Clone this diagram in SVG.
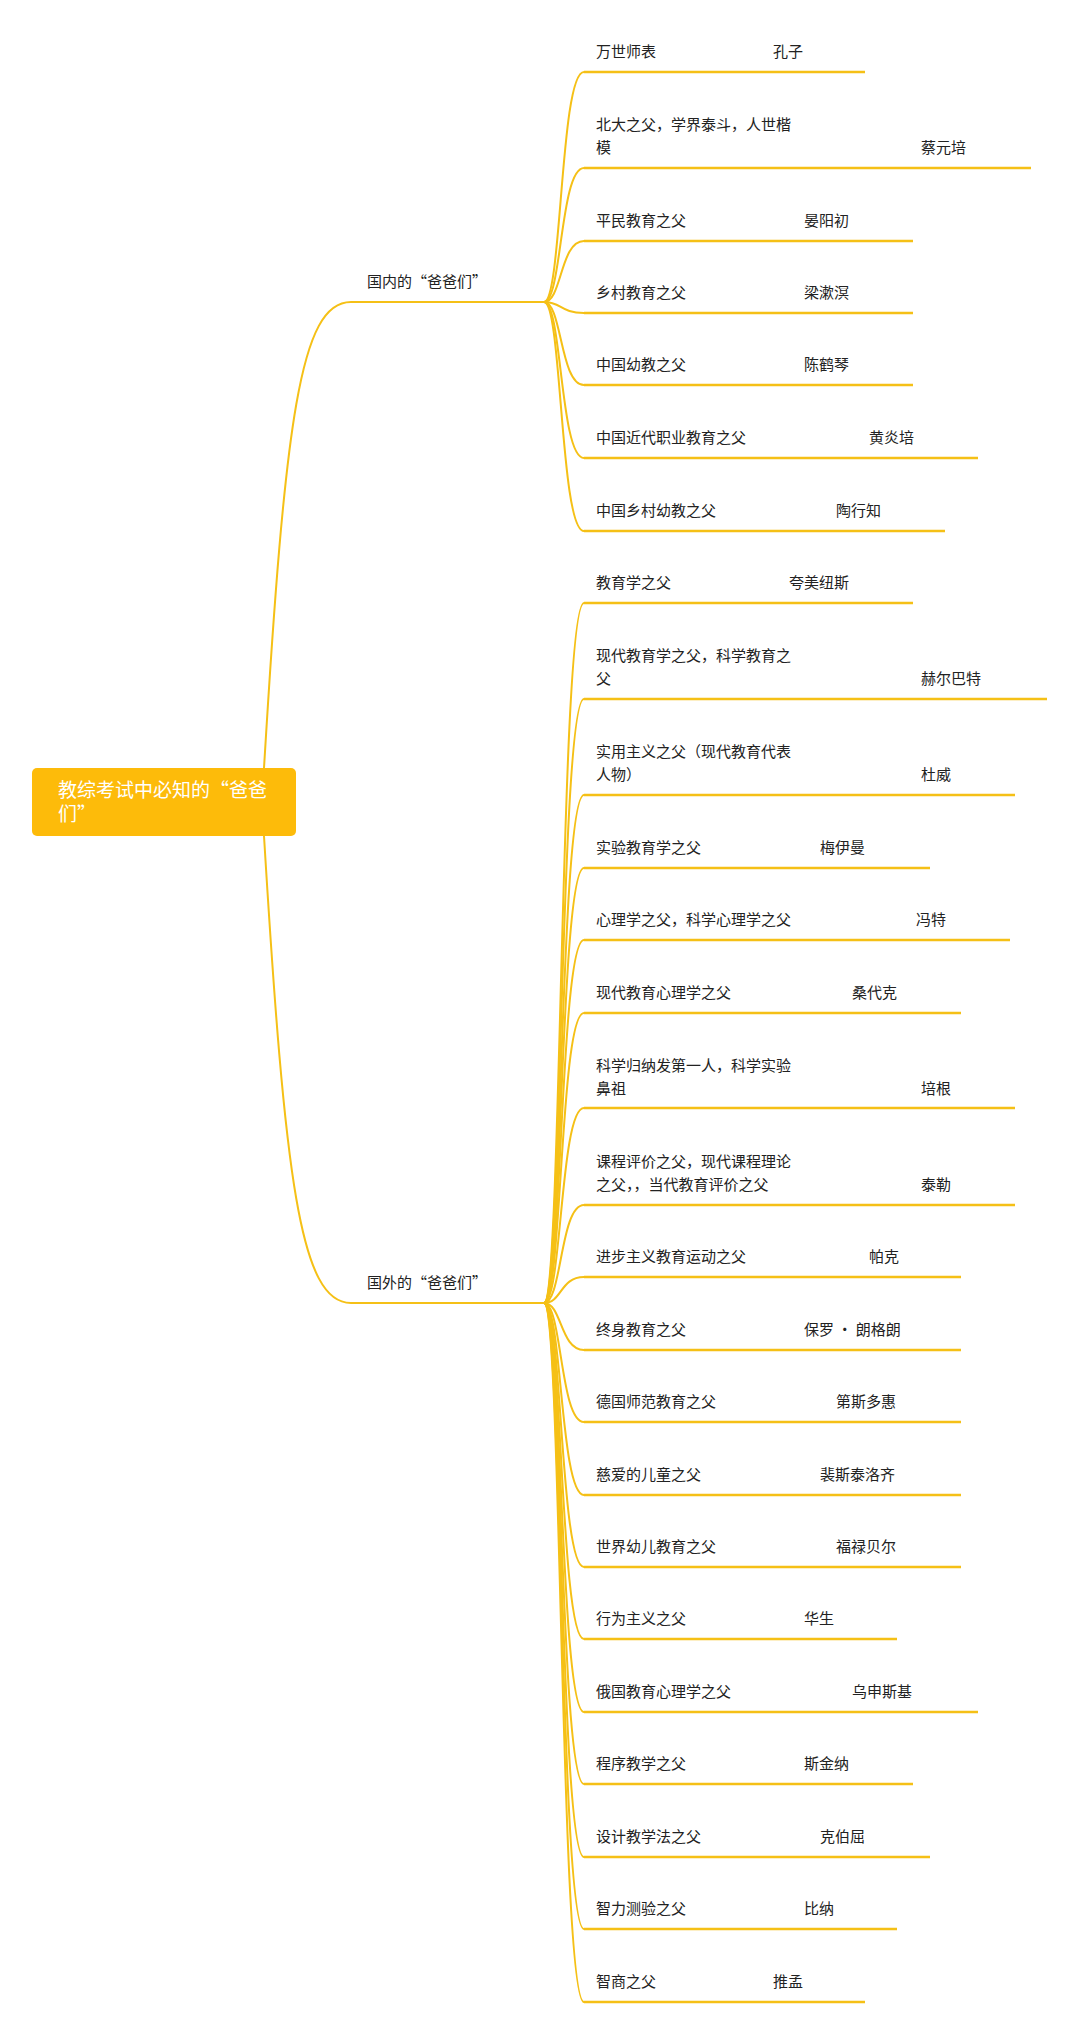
<svg xmlns="http://www.w3.org/2000/svg" width="1080" height="2035" viewBox="0 0 1080 2035">
<style>
text{font-family:"Noto Sans CJK SC","Noto Sans",sans-serif;font-size:15px;fill:#222}
.c{fill:none;stroke:#F5C016;stroke-width:2}
.l{fill:none;stroke:#F5C016;stroke-width:2.5}
.r{font-size:19px;fill:#fff}
</style>
<rect width="1080" height="2035" fill="#fff"/>
<g id="connectors">
<path class="c" d="M264 768 C285 420 300 302 351 302 H544"/>
<path class="c" d="M264 836 C285 1180 300 1303 351 1303 H544"/>
<g id="dom">
<path class="c" d="M544 302 C562 302 560 72 584 72"/><path class="l" d="M584 72 H865"/>
<path class="c" d="M544 302 C562 302 560 168 584 168"/><path class="l" d="M584 168 H1031"/>
<path class="c" d="M544 302 C562 302 560 241 584 241"/><path class="l" d="M584 241 H913"/>
<path class="c" d="M544 302 C562 302 560 313 584 313"/><path class="l" d="M584 313 H913"/>
<path class="c" d="M544 302 C562 302 560 385 584 385"/><path class="l" d="M584 385 H913"/>
<path class="c" d="M544 302 C562 302 560 458 584 458"/><path class="l" d="M584 458 H978"/>
<path class="c" d="M544 302 C562 302 560 531 584 531"/><path class="l" d="M584 531 H945"/>
</g>
<g id="for">
<path class="c" d="M544 1303 C562 1303 560 603 584 603"/><path class="l" d="M584 603 H913"/>
<path class="c" d="M544 1303 C562 1303 560 699 584 699"/><path class="l" d="M584 699 H1047"/>
<path class="c" d="M544 1303 C562 1303 560 795 584 795"/><path class="l" d="M584 795 H1015"/>
<path class="c" d="M544 1303 C562 1303 560 868 584 868"/><path class="l" d="M584 868 H930"/>
<path class="c" d="M544 1303 C562 1303 560 940 584 940"/><path class="l" d="M584 940 H1010"/>
<path class="c" d="M544 1303 C562 1303 560 1013 584 1013"/><path class="l" d="M584 1013 H961"/>
<path class="c" d="M544 1303 C562 1303 560 1108 584 1108"/><path class="l" d="M584 1108 H1015"/>
<path class="c" d="M544 1303 C562 1303 560 1205 584 1205"/><path class="l" d="M584 1205 H1015"/>
<path class="c" d="M544 1303 C562 1303 560 1277 584 1277"/><path class="l" d="M584 1277 H961"/>
<path class="c" d="M544 1303 C562 1303 560 1350 584 1350"/><path class="l" d="M584 1350 H961"/>
<path class="c" d="M544 1303 C562 1303 560 1422 584 1422"/><path class="l" d="M584 1422 H961"/>
<path class="c" d="M544 1303 C562 1303 560 1495 584 1495"/><path class="l" d="M584 1495 H961"/>
<path class="c" d="M544 1303 C562 1303 560 1567 584 1567"/><path class="l" d="M584 1567 H961"/>
<path class="c" d="M544 1303 C562 1303 560 1639 584 1639"/><path class="l" d="M584 1639 H897"/>
<path class="c" d="M544 1303 C562 1303 560 1712 584 1712"/><path class="l" d="M584 1712 H978"/>
<path class="c" d="M544 1303 C562 1303 560 1784 584 1784"/><path class="l" d="M584 1784 H913"/>
<path class="c" d="M544 1303 C562 1303 560 1857 584 1857"/><path class="l" d="M584 1857 H930"/>
<path class="c" d="M544 1303 C562 1303 560 1929 584 1929"/><path class="l" d="M584 1929 H897"/>
<path class="c" d="M544 1303 C562 1303 560 2002 584 2002"/><path class="l" d="M584 2002 H865"/>
</g>
</g>
<g id="root"><rect x="32" y="768" width="264" height="68" rx="5" fill="#FDBB0A"/>
<text class="r" x="58" y="797">教综考试中必知的“爸爸</text><text class="r" x="58" y="821">们”</text></g>
<g id="b1"><text x="367" y="287">国内的“爸爸们”</text></g>
<g id="b2"><text x="367" y="1288">国外的“爸爸们”</text></g>
<g id="n1"><text x="596" y="57">万世师表</text><text x="773" y="57">孔子</text></g>
<g id="n2"><text x="596" y="130">北大之父，学界泰斗，人世楷</text><text x="596" y="153">模</text><text x="921" y="153">蔡元培</text></g>
<g id="n3"><text x="596" y="226">平民教育之父</text><text x="804" y="226">晏阳初</text></g>
<g id="n4"><text x="596" y="298">乡村教育之父</text><text x="804" y="298">梁漱溟</text></g>
<g id="n5"><text x="596" y="370">中国幼教之父</text><text x="804" y="370">陈鹤琴</text></g>
<g id="n6"><text x="596" y="443">中国近代职业教育之父</text><text x="869" y="443">黄炎培</text></g>
<g id="n7"><text x="596" y="516">中国乡村幼教之父</text><text x="836" y="516">陶行知</text></g>
<g id="m1"><text x="596" y="588">教育学之父</text><text x="789" y="588">夸美纽斯</text></g>
<g id="m2"><text x="596" y="661">现代教育学之父，科学教育之</text><text x="596" y="684">父</text><text x="921" y="684">赫尔巴特</text></g>
<g id="m3"><text x="596" y="757">实用主义之父（现代教育代表</text><text x="596" y="780">人物）</text><text x="921" y="780">杜威</text></g>
<g id="m4"><text x="596" y="853">实验教育学之父</text><text x="820" y="853">梅伊曼</text></g>
<g id="m5"><text x="596" y="925">心理学之父，科学心理学之父</text><text x="916" y="925">冯特</text></g>
<g id="m6"><text x="596" y="998">现代教育心理学之父</text><text x="852" y="998">桑代克</text></g>
<g id="m7"><text x="596" y="1071">科学归纳发第一人，科学实验</text><text x="596" y="1094">鼻祖</text><text x="921" y="1094">培根</text></g>
<g id="m8"><text x="596" y="1167">课程评价之父，现代课程理论</text><text x="596" y="1190">之父，，当代教育评价之父</text><text x="921" y="1190">泰勒</text></g>
<g id="m9"><text x="596" y="1262">进步主义教育运动之父</text><text x="869" y="1262">帕克</text></g>
<g id="m10"><text x="596" y="1335">终身教育之父</text><text x="804" y="1335">保罗 • 朗格朗</text></g>
<g id="m11"><text x="596" y="1407">德国师范教育之父</text><text x="836" y="1407">第斯多惠</text></g>
<g id="m12"><text x="596" y="1480">慈爱的儿童之父</text><text x="820" y="1480">裴斯泰洛齐</text></g>
<g id="m13"><text x="596" y="1552">世界幼儿教育之父</text><text x="836" y="1552">福禄贝尔</text></g>
<g id="m14"><text x="596" y="1624">行为主义之父</text><text x="804" y="1624">华生</text></g>
<g id="m15"><text x="596" y="1697">俄国教育心理学之父</text><text x="852" y="1697">乌申斯基</text></g>
<g id="m16"><text x="596" y="1769">程序教学之父</text><text x="804" y="1769">斯金纳</text></g>
<g id="m17"><text x="596" y="1842">设计教学法之父</text><text x="820" y="1842">克伯屈</text></g>
<g id="m18"><text x="596" y="1914">智力测验之父</text><text x="804" y="1914">比纳</text></g>
<g id="m19"><text x="596" y="1987">智商之父</text><text x="773" y="1987">推孟</text></g>
</svg>
